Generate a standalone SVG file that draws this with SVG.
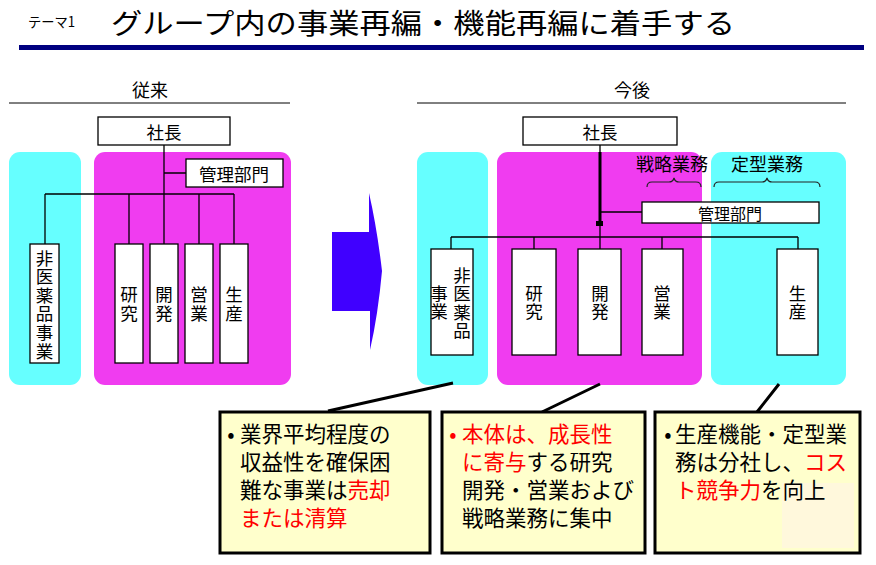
<svg xmlns="http://www.w3.org/2000/svg" width="876" height="565" viewBox="0 0 876 565">
<style>
text{font-family:'Noto Sans CJK JP','Noto Sans',sans-serif;fill:#000;dominant-baseline:central}
.box{fill:#fff;stroke:#000;stroke-width:1.3}
.cy{fill:#66FFFF}
.mg{fill:#F03CF0}
.ln{fill:none;stroke:#000;stroke-width:1.3}
.lnb{fill:none;stroke:#000;stroke-width:3}
.br{fill:none;stroke:#222;stroke-width:1.2}
.lb{font-size:17.5px;text-anchor:middle}
.vt{font-size:17.5px;text-anchor:middle;writing-mode:vertical-rl;letter-spacing:1.1px}
.hd{font-size:18px;text-anchor:middle}
.note{fill:#FFFFCC;stroke:#000;stroke-width:3}
.nt{font-size:21.5px}
.red{fill:#FF0000}
</style>
<rect width="876" height="565" fill="#fff"/>
<g id="title">
<text x="28" y="21" font-size="14" textLength="47" lengthAdjust="spacingAndGlyphs">テーマ1</text>
<text x="111" y="22" font-size="28" textLength="624" lengthAdjust="spacingAndGlyphs">グループ内の事業再編・機能再編に着手する</text>
<rect x="19" y="45" width="845" height="5" fill="#000080"/>
</g>
<g id="heading-before">
<text class="hd" x="150" y="89">従来</text>
<line x1="9" y1="103" x2="290" y2="103" stroke="#000" stroke-width="1"/>
</g>
<g id="heading-after">
<text class="hd" x="632" y="89">今後</text>
<line x1="417" y1="103" x2="846" y2="103" stroke="#000" stroke-width="1"/>
</g>
<g id="regions">
<rect class="cy" x="9" y="152" width="72" height="233" rx="11"/>
<rect class="mg" x="94" y="152" width="197" height="233" rx="11"/>
<rect class="cy" x="417" y="152" width="71" height="233" rx="11"/>
<rect class="mg" x="497" y="152" width="205" height="233" rx="11"/>
<rect class="cy" x="711" y="152" width="135" height="233" rx="11"/>
</g>
<g id="arrow">
<path d="M332,232 H369 V193 Q377,228 382,271 Q378,315 370,350 V311 H332 Z" fill="#4000FF"/>
</g>
<g id="connectors">
<path class="ln" d="M164,145 V244 M164,173 H186 M45,194 H234 M45,194 V244 M129,194 V244 M199,194 V244 M234,194 V244"/>
<path class="ln" d="M600,145 V249 M600,212 H642 M451,237 H798 M451,237 V249 M534,237 V249 M662,237 V249 M798,237 V249"/>
<path class="lnb" d="M600,152 V222"/>
<rect x="596" y="221" width="7" height="5" fill="#000"/>
<path class="lnb" d="M453,383 L328,411 M600,384 L542,412 M779,384 L757,412"/>
</g>
<g id="L-president"><rect class="box" x="98" y="117" width="132" height="28"/><text class="lb" x="164" y="131">社長</text></g>
<g id="L-admin"><rect class="box" x="186" y="159" width="97" height="28"/><text class="lb" x="234" y="173">管理部門</text></g>
<g id="L-nonpharma"><rect class="box" x="30" y="244" width="29" height="119"/><text class="vt" x="44.5" y="305">非医薬品事業</text></g>
<g id="L-research"><rect class="box" x="115" y="244" width="28" height="119"/><text class="vt" x="129" y="304.5">研究</text></g>
<g id="L-dev"><rect class="box" x="150" y="244" width="28" height="119"/><text class="vt" x="164" y="304.5">開発</text></g>
<g id="L-sales"><rect class="box" x="185" y="244" width="28" height="119"/><text class="vt" x="199" y="304.5">営業</text></g>
<g id="L-prod"><rect class="box" x="220" y="244" width="28" height="119"/><text class="vt" x="234" y="304.5">生産</text></g>
<g id="R-president"><rect class="box" x="523" y="117" width="154" height="28"/><text class="lb" x="600" y="131">社長</text></g>
<g id="R-strategic"><text class="hd" x="672" y="163">戦略業務</text><path class="br" d="M647,187 Q647,182 652,182 H669 Q673,182 674,178 Q675,182 679,182 H696 Q701,182 701,187"/></g>
<g id="R-routine"><text class="hd" x="767" y="163">定型業務</text><path class="br" d="M714,187 Q714,182 719,182 H762 Q766,182 767,178 Q768,182 772,182 H815 Q820,182 820,187"/></g>
<g id="R-admin"><rect class="box" x="642" y="202" width="177" height="21"/><text x="730" y="212.5" font-size="16" text-anchor="middle">管理部門</text></g>
<g id="R-nonpharma"><rect class="box" x="431" y="249" width="42" height="106"/><text class="vt"><tspan x="462" y="303.4">非医薬品</tspan><tspan x="439" y="303.4">事業</tspan></text></g>
<g id="R-research"><rect class="box" x="512" y="249" width="44" height="106"/><text class="vt" x="534" y="303">研究</text></g>
<g id="R-dev"><rect class="box" x="578" y="249" width="43" height="106"/><text class="vt" x="600" y="303">開発</text></g>
<g id="R-sales"><rect class="box" x="642" y="249" width="41" height="106"/><text class="vt" x="662" y="303">営業</text></g>
<g id="R-prod"><rect class="box" x="777" y="249" width="41" height="106"/><text class="vt" x="797.5" y="303">生産</text></g>
<g id="note1">
<rect class="note" x="220" y="412" width="210" height="141"/>
<text class="nt" x="231" y="432" text-anchor="middle">•</text>
<text class="nt" x="240" y="432">業界平均程度の</text>
<text class="nt" x="240" y="460">収益性を確保困</text>
<text class="nt" x="240" y="488">難な事業は<tspan class="red">売却</tspan></text>
<text class="nt red" x="240" y="516">または清算</text>
</g>
<g id="note2">
<rect class="note" x="442" y="412" width="203" height="141"/>
<text class="nt red" x="453" y="432" text-anchor="middle">•</text>
<text class="nt red" x="462" y="432">本体は、成長性</text>
<text class="nt" x="462" y="460"><tspan class="red">に寄与</tspan>する研究</text>
<text class="nt" x="462" y="488">開発・営業および</text>
<text class="nt" x="462" y="516">戦略業務に集中</text>
</g>
<g id="note3">
<rect class="note" x="655" y="412" width="205" height="141"/>
<rect x="782" y="483" width="72" height="65" fill="#FFF8DC"/>
<text class="nt" x="668" y="432" text-anchor="middle">•</text>
<text class="nt" x="675" y="432">生産機能・定型業</text>
<text class="nt" x="675" y="460">務は分社し、<tspan class="red">コス</tspan></text>
<text class="nt" x="675" y="488"><tspan class="red">ト競争力</tspan>を向上</text>
</g>
</svg>
